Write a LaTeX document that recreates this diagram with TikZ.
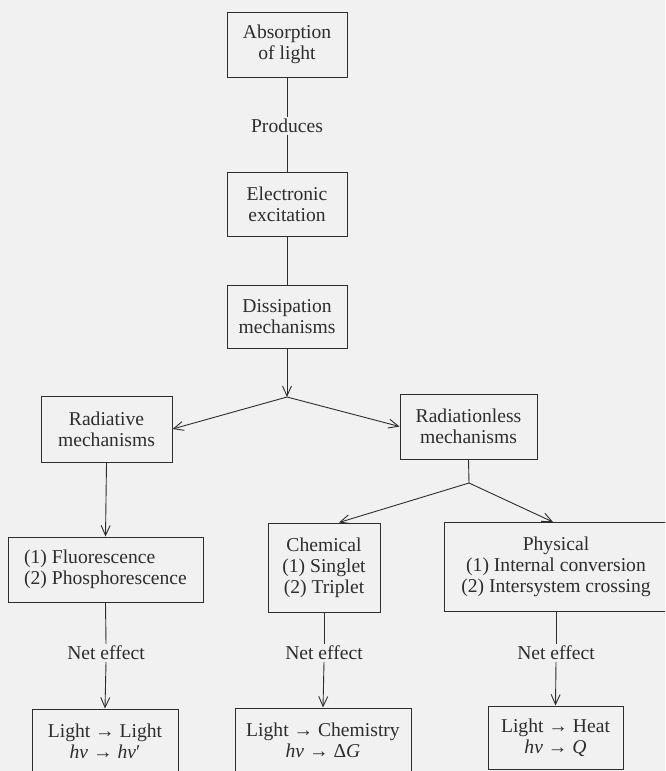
\documentclass[tikz,border=0pt]{standalone}
\usepackage{fontspec}
\setmainfont{Liberation Serif}
\usetikzlibrary{arrows.meta}
\definecolor{bg}{RGB}{241,241,241}
\definecolor{ink}{RGB}{45,45,45}
\begin{document}
\begin{tikzpicture}[x=1pt,y=-1pt,
  box/.style={draw=ink,line width=1pt,text=ink,align=center,inner sep=0pt,
    font=\fontsize{19.6}{21}\selectfont},
  lbl/.style={text=ink,inner sep=2pt,font=\fontsize{19.6}{21}\selectfont},
  conn/.style={draw=ink,line width=0.9pt},
  arr/.style={conn,-{Straight Barb[length=10pt,width=9pt]}}]
\useasboundingbox (0,0) rectangle (665,771);
\fill[bg] (0,0) rectangle (665,771);
\clip (0,0) rectangle (665,771);
% top column
\node[box,minimum width=120,minimum height=65] (abs) at (287,44.5) {Absorption\\of light};
\node[lbl] (prod) at (287,126) {Produces};
\node[box,minimum width=120,minimum height=64] (exc) at (287,204.5) {Electronic\\excitation};
\node[box,minimum width=120,minimum height=63] (dis) at (287,316.5) {Dissipation\\mechanisms};
\coordinate (j1) at (287,397);
% second level
\node[box,minimum width=131,minimum height=66] (rad) at (106.5,429) {Radiative\\mechanisms};
\node[box,minimum width=137,minimum height=65] (rless) at (468.5,426.5) {Radiationless\\mechanisms};
\coordinate (j2) at (469,483);
% third level
\node[box,minimum width=195,minimum height=65,align=left] (fluo) at (105.5,569.5) {(1) Fluorescence\\(2) Phosphorescence};
\node[box,minimum width=112,minimum height=89] (chem) at (324,567.5) {Chemical\\(1) Singlet\\(2) Triplet};
\node[box,minimum width=224,minimum height=89] (phys) at (556,567) {Physical\\(1) Internal conversion\\(2) Intersystem crossing};
% net effect labels
\node[lbl] (ne1) at (106,653) {Net effect};
\node[lbl] (ne2) at (324,653) {Net effect};
\node[lbl] (ne3) at (556,653) {Net effect};
% bottom boxes
\node[box,minimum width=146,minimum height=65] (b1) at (105,741.5) {Light → Light\\\textit{hν} → \textit{hν}′};
\node[box,minimum width=176,minimum height=65] (b2) at (323,740.5) {Light → Chemistry\\\textit{hν} → Δ\textit{G}};
\node[box,minimum width=135,minimum height=63] (b3) at (555.5,737.5) {Light → Heat\\\textit{hν} → \textit{Q}};
% connectors
\draw[conn] (abs.south) -- (prod.north);
\draw[conn] (prod.south) -- (exc.north);
\draw[conn] (exc.south) -- (dis.north);
\draw[arr] (dis.south) -- (j1);
\draw[arr] (j1) -- (rad.east);
\draw[arr] (j1) -- (rless.west);
\draw[arr] (rad.south) -- (fluo.north);
\draw[conn] (rless.south) -- (j2);
\draw[arr] (j2) -- ([xshift=15]chem.north);
\draw[arr] (j2) -- ([xshift=-3]phys.north);
\draw[conn] (fluo.south) -- (ne1.north);
\draw[conn] (chem.south) -- (ne2.north);
\draw[conn] (phys.south) -- (ne3.north);
\draw[arr] (ne1.south) -- (b1.north);
\draw[arr] (ne2.south) -- (b2.north);
\draw[arr] (ne3.south) -- (b3.north);
\end{tikzpicture}
\end{document}
